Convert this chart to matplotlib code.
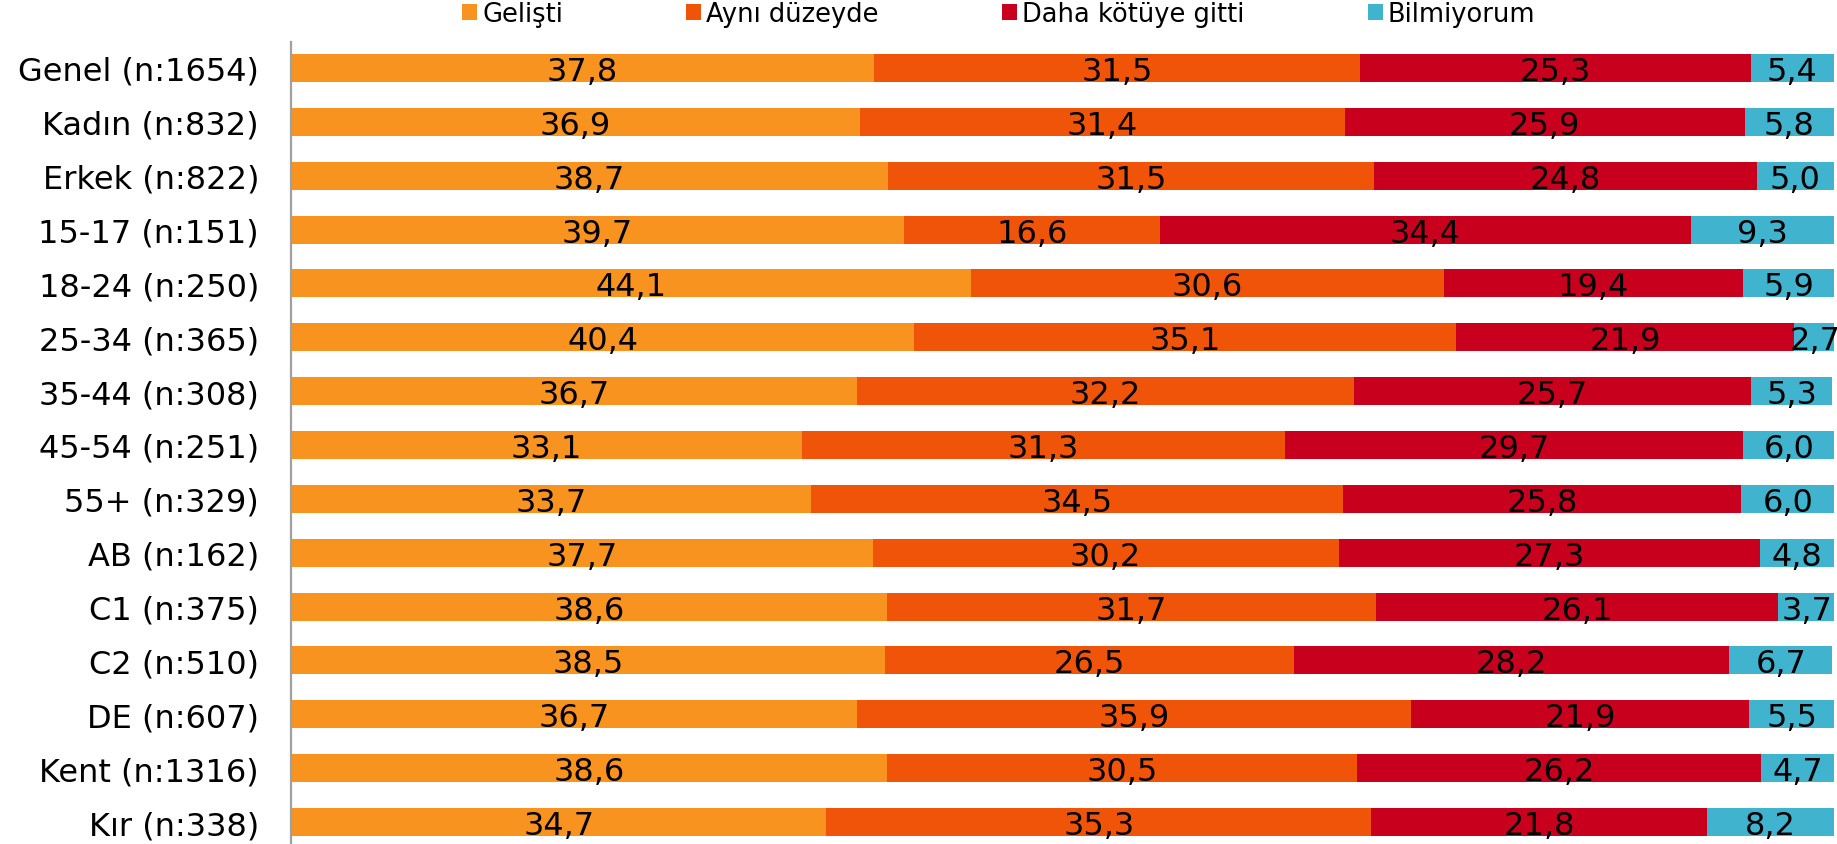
import numpy as np
import matplotlib.pyplot as plt
from matplotlib.patches import Patch

plt.rcParams['font.family'] = ['DejaVu Sans']

categories = ['Genel (n:1654)', 'Kadın (n:832)', 'Erkek (n:822)', '15-17 (n:151)',
              '18-24 (n:250)', '25-34 (n:365)', '35-44 (n:308)', '45-54 (n:251)',
              '55+ (n:329)', 'AB (n:162)', 'C1 (n:375)', 'C2 (n:510)', 'DE (n:607)',
              'Kent (n:1316)', 'Kır (n:338)']
series_names = ['Gelişti', 'Aynı düzeyde', 'Daha kötüye gitti', 'Bilmiyorum']
gelisti = [37.8, 36.9, 38.7, 39.7, 44.1, 40.4, 36.7, 33.1, 33.7, 37.7, 38.6, 38.5, 36.7, 38.6, 34.7]
ayni = [31.5, 31.4, 31.5, 16.6, 30.6, 35.1, 32.2, 31.3, 34.5, 30.2, 31.7, 26.5, 35.9, 30.5, 35.3]
kotu = [25.3, 25.9, 24.8, 34.4, 19.4, 21.9, 25.7, 29.7, 25.8, 27.3, 26.1, 28.2, 21.9, 26.2, 21.8]
bilmiyorum = [5.4, 5.8, 5.0, 9.3, 5.9, 2.7, 5.3, 6.0, 6.0, 4.8, 3.7, 6.7, 5.5, 4.7, 8.2]

COLORS = ['#F7931E', '#F05408', '#C8001E', '#40B3CE']

W, H = 1837, 845
fig = plt.figure(figsize=(W / 100, H / 100), dpi=100)
ax = fig.add_axes([291 / W, 0, (1834 - 291) / W, (845 - 43) / H])

y = np.arange(len(categories))
left = np.zeros(len(categories))
for name, vals, col in zip(series_names, [gelisti, ayni, kotu, bilmiyorum], COLORS):
    vals = np.array(vals)
    ax.barh(y, vals, left=left, height=0.52, color=col, label=name, zorder=2)
    for yi, l, v in zip(y, left, vals):
        ax.text(l + v / 2, yi, f'{v:.1f}'.replace('.', ','), ha='center',
                va='center_baseline', fontsize=23, color='black', zorder=3)
    left += vals

ax.set_xlim(0, 100)
ax.set_ylim(14 + 22 / 53.86, -26 / 53.86)
ax.set_yticks(y)
ax.set_yticklabels(categories, fontsize=23)
ax.tick_params(axis='y', length=0, pad=23)
ax.set_xticks([])
for s in ['top', 'right', 'bottom']:
    ax.spines[s].set_visible(False)
ax.spines['left'].set_color('#A0A0A0')
ax.spines['left'].set_linewidth(1.6)

handles = [Patch(facecolor=c, label=n) for n, c in zip(series_names, COLORS)]
fig.legend(handles=handles, loc='center left', ncol=4, frameon=False,
           bbox_to_anchor=(462 / W, 1 - 15.5 / H), borderaxespad=0, borderpad=0,
           fontsize=18.5, handlelength=0.58, handleheight=0.58, handletextpad=0.2,
           columnspacing=4.8)

fig.savefig('out.png', dpi=100)
